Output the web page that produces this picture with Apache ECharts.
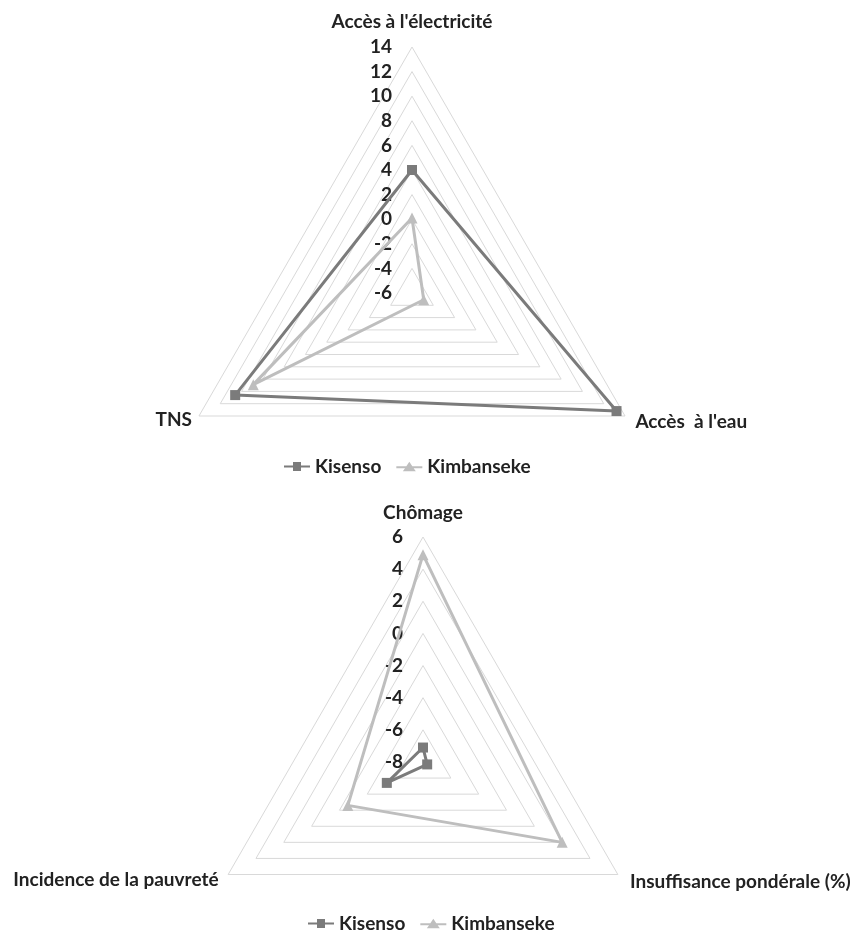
<!DOCTYPE html>
<html>
<head>
<meta charset="utf-8">
<script src="https://cdn.jsdelivr.net/npm/echarts@6/dist/echarts.min.js"></script>
<style>
  html, body { margin: 0; padding: 0; background: #fff; }
  #chart { width: 854px; height: 933px; }
</style>
</head>
<body>
<div id="chart"></div>
<script>
// Infrastructure indicators (upper radar)
const axes1 = ["Accès à l'électricité", "TNS", "Accès  à l'eau"];
const kisenso1 = [4, 10.6, 13.2];
const kimbanseke1 = [0.1, 8.9, -4.9];
const range1 = [-6, 14];

// Poverty indicators (lower radar)
const axes2 = ["Chômage", "Incidence de la pauvreté", "Insuffisance pondérale (%)"];
const kisenso2 = [-7.1, -5.4, -7.7];
const kimbanseke2 = [4.9, -2.6, 2.0];
const range2 = [-8, 6];

const communes = ["Kisenso", "Kimbanseke"];

const TEXT = '#222222';
const DARK = '#7b7b7b';
const LIGHT = '#bebebe';
const FONT = 'Lato';
const FS = 19;

const iconSquare = 'path://M0,4L9,4L9,0.5L17,0.5L17,4L26,4L26,6L17,6L17,9.5L9,9.5L9,6L0,6Z';
const iconTriangle = 'path://M0,5L10,5L13,0.5L16,5L26,5L26,7L17.3,7L19.5,10L6.5,10L8.7,7L0,7Z';

function indicators(names, range, gaps) {
  return names.map((n, i) => ({
    name: n,
    min: range[0],
    max: range[1],
    nameGap: gaps[i],
    axisLabel: { show: i === 0 }
  }));
}

function radarBase(center, radius, names, range, gaps) {
  return {
    center: center,
    radius: radius,
    shape: 'polygon',
    startAngle: 90,
    splitNumber: (range[1] - range[0]) / 2,
    indicator: indicators(names, range, gaps),
    axisName: { color: TEXT, fontSize: FS, fontWeight: 'bold', fontFamily: FONT },
    axisLine: { show: false },
    axisTick: { show: false },
    splitArea: { show: false },
    splitLine: { lineStyle: { color: '#d9d9d9', width: 1 } },
    axisLabel: {
      color: TEXT, fontSize: FS, fontWeight: 'bold', fontFamily: FONT,
      margin: 20, showMinLabel: true, showMaxLabel: true
    }
  };
}

function seriesFor(radarIndex, kis, kim) {
  return {
    type: 'radar',
    radarIndex: radarIndex,
    silent: true,
    data: [
      {
        name: communes[0], value: kis,
        symbol: 'rect', symbolSize: 10,
        itemStyle: { color: DARK },
        lineStyle: { color: DARK, width: 3 }
      },
      {
        name: communes[1], value: kim,
        symbol: 'triangle', symbolSize: 11,
        itemStyle: { color: LIGHT },
        lineStyle: { color: LIGHT, width: 3 }
      }
    ]
  };
}

function legendAt(left, top) {
  return {
    left: left, top: top,
    itemWidth: 26, itemHeight: 10, itemGap: 15,
    selectedMode: false,
    textStyle: { color: TEXT, fontSize: FS, fontWeight: 'bold', fontFamily: FONT },
    data: [
      { name: communes[0], icon: iconSquare, itemStyle: { color: DARK } },
      { name: communes[1], icon: iconTriangle, itemStyle: { color: LIGHT } }
    ]
  };
}

const chart = echarts.init(document.getElementById('chart'), null, { renderer: 'canvas' });
chart.setOption({
  backgroundColor: '#fff',
  animation: false,
  radar: [
    radarBase([412, 293], 246, axes1, range1, [16, 8, 12]),
    radarBase([423, 762], 225, axes2, range2, [15, 11, 14])
  ],
  legend: [legendAt(279, 452), legendAt(303, 909)],
  series: [
    seriesFor(0, kisenso1, kimbanseke1),
    seriesFor(1, kisenso2, kimbanseke2)
  ]
});
</script>
</body>
</html>
